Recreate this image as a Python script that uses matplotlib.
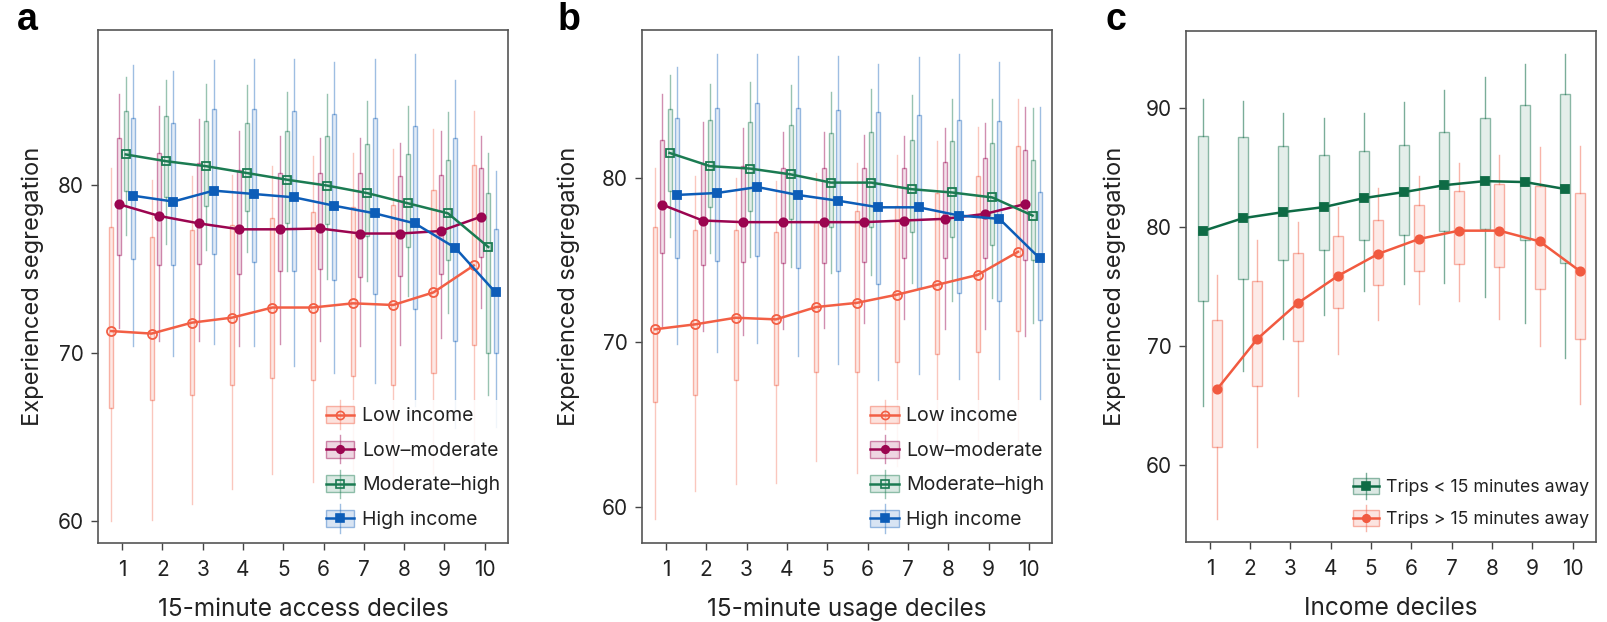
import matplotlib
matplotlib.use('Agg')
import matplotlib.pyplot as plt
from matplotlib.colors import to_rgba
from matplotlib.patches import Rectangle
from matplotlib.lines import Line2D
from matplotlib.legend_handler import HandlerBase

plt.rcParams['font.family'] = ['Inter', 'DejaVu Sans']

# ---------------- data ----------------
deciles = list(range(1, 11))
tick_labels = [str(d) for d in deciles]
group_labels = ['Low income', 'Low–moderate', 'Moderate–high', 'High income']
trip_labels = ['Trips < 15 minutes away', 'Trips > 15 minutes away']

# Panel a: 15-minute access deciles
a_low_mean = [71.3, 71.15, 71.8, 72.1, 72.7, 72.7, 72.95, 72.85, 73.6, 75.2]
a_low_q1 = [66.7, 67.2, 67.5, 68.1, 68.5, 68.4, 68.65, 68.1, 68.8, 70.5]
a_low_q3 = [77.5, 76.9, 77.3, 77.6, 78.0, 78.35, 78.7, 78.8, 79.7, 81.2]
a_low_lo = [60.0, 60.05, 61.0, 61.9, 62.8, 62.3, 63.0, 62.4, 62.8, 64.4]
a_low_hi = [81.0, 80.3, 80.5, 80.6, 81.1, 81.7, 81.9, 82.1, 83.3, 84.4]

a_lm_mean = [78.85, 78.15, 77.7, 77.35, 77.35, 77.4, 77.1, 77.1, 77.25, 78.1]
a_lm_q1 = [75.8, 75.2, 75.3, 74.7, 74.9, 75.0, 74.5, 74.6, 74.7, 75.7]
a_lm_q3 = [82.8, 81.9, 81.3, 80.9, 80.7, 80.7, 80.7, 80.5, 80.6, 81.0]
a_lm_lo = [71.5, 70.7, 70.7, 70.4, 70.55, 70.7, 70.4, 70.5, 70.9, 72.7]
a_lm_hi = [85.4, 84.7, 83.9, 83.2, 82.9, 82.8, 82.8, 82.5, 83.2, 82.9]

a_mh_mean = [81.8, 81.4, 81.1, 80.7, 80.3, 79.95, 79.5, 78.9, 78.3, 76.3]
a_mh_q1 = [79.6, 79.25, 78.75, 78.45, 77.75, 77.65, 76.95, 76.3, 75.5, 70.0]
a_mh_q3 = [84.4, 84.1, 83.8, 83.7, 83.2, 82.9, 82.4, 81.8, 81.5, 79.5]
a_mh_lo = [77.0, 76.5, 76.1, 76.0, 74.9, 74.4, 74.3, 73.4, 72.4, 67.5]
a_mh_hi = [86.4, 86.2, 86.0, 85.95, 85.5, 85.4, 85.0, 84.7, 84.3, 81.9]

a_hi_mean = [79.35, 79.0, 79.65, 79.45, 79.25, 78.75, 78.3, 77.7, 76.25, 73.6]
a_hi_q1 = [75.6, 75.2, 75.9, 75.4, 74.9, 74.35, 73.5, 72.6, 70.7, 70.0]
a_hi_q3 = [83.95, 83.7, 84.5, 84.5, 84.4, 84.2, 83.95, 83.5, 82.8, 77.35]
a_hi_lo = [70.4, 69.8, 70.55, 70.4, 69.2, 68.8, 68.2, 66.85, 65.55, 65.6]
a_hi_hi = [87.1, 86.75, 87.4, 87.5, 87.5, 87.3, 87.5, 87.8, 86.25, 80.8]

# Panel b: 15-minute usage deciles
b_low_mean = [70.8, 71.1, 71.5, 71.4, 72.15, 72.4, 72.9, 73.5, 74.1, 75.5]
b_low_q1 = [66.4, 66.8, 67.7, 67.4, 68.2, 68.2, 68.8, 69.3, 69.4, 70.7]
b_low_q3 = [77.0, 76.8, 76.8, 76.7, 77.3, 78.0, 78.3, 79.05, 80.1, 81.9]
b_low_lo = [59.3, 61.0, 61.4, 61.5, 62.8, 62.1, 62.5, 63.7, 64.1, 64.1]
b_low_hi = [80.6, 80.1, 80.0, 79.8, 80.3, 80.9, 81.4, 82.2, 83.1, 84.8]

b_lm_mean = [78.36, 77.4, 77.3, 77.3, 77.3, 77.3, 77.4, 77.5, 77.8, 78.4]
b_lm_q1 = [75.4, 74.7, 74.9, 74.8, 74.8, 74.9, 75.1, 75.1, 75.15, 75.0]
b_lm_q3 = [82.3, 80.8, 80.7, 80.6, 80.6, 80.6, 80.6, 80.97, 81.2, 81.7]
b_lm_lo = [71.0, 70.7, 70.45, 70.8, 70.9, 71.2, 71.4, 70.8, 70.8, 70.4]
b_lm_hi = [85.1, 83.4, 83.0, 82.75, 82.8, 82.6, 82.5, 83.0, 83.3, 84.3]

b_mh_mean = [81.5, 80.7, 80.55, 80.2, 79.7, 79.7, 79.3, 79.1, 78.8, 77.7]
b_mh_q1 = [79.2, 78.2, 78.0, 77.5, 77.0, 77.0, 76.7, 76.4, 75.9, 75.0]
b_mh_q3 = [84.15, 83.5, 83.4, 83.2, 82.7, 82.75, 82.3, 82.2, 82.1, 81.1]
b_mh_lo = [76.4, 75.4, 75.2, 74.6, 74.2, 74.1, 73.6, 72.5, 72.7, 71.2]
b_mh_hi = [86.2, 85.7, 85.8, 85.6, 85.2, 85.4, 85.0, 84.8, 84.8, 84.2]

b_hi_mean = [78.95, 79.07, 79.43, 78.95, 78.6, 78.2, 78.2, 77.7, 77.5, 75.1]
b_hi_q1 = [75.15, 74.96, 75.25, 74.54, 74.36, 73.55, 73.28, 72.98, 72.54, 71.36]
b_hi_q3 = [83.6, 84.2, 84.5, 84.2, 84.1, 83.96, 83.8, 83.5, 83.46, 79.15]
b_hi_lo = [69.9, 69.4, 69.95, 69.2, 68.7, 67.7, 68.1, 67.8, 67.8, 66.5]
b_hi_hi = [86.7, 87.5, 87.5, 87.4, 87.4, 86.9, 87.3, 87.5, 87.0, 84.3]

# Panel c: income deciles
c_near_mean = [79.66, 80.75, 81.26, 81.68, 82.44, 82.95, 83.53, 83.87, 83.79, 83.2]
c_near_q1 = [73.8, 75.6, 77.2, 78.1, 78.9, 79.3, 79.7, 79.8, 78.9, 77.0]
c_near_q3 = [87.7, 87.6, 86.8, 86.1, 86.4, 86.9, 88.0, 89.2, 90.3, 91.2]
c_near_lo = [64.9, 67.9, 70.6, 72.6, 74.6, 75.2, 75.3, 74.1, 71.9, 69.0]
c_near_hi = [90.8, 90.6, 89.6, 89.2, 89.6, 90.5, 91.5, 92.6, 93.7, 94.6]

c_far_mean = [66.36, 70.6, 73.6, 75.9, 77.75, 78.99, 79.7, 79.7, 78.8, 76.3]
c_far_q1 = [61.5, 66.6, 70.45, 73.15, 75.1, 76.3, 76.9, 76.6, 74.8, 70.6]
c_far_q3 = [72.2, 75.5, 77.8, 79.25, 80.6, 81.9, 83.05, 83.6, 83.5, 82.9]
c_far_lo = [55.45, 61.5, 65.8, 69.3, 72.2, 73.5, 73.8, 72.3, 69.95, 65.1]
c_far_hi = [76.0, 78.9, 80.4, 81.7, 83.3, 84.3, 85.4, 86.1, 86.7, 86.8]

# ---------------- styles ----------------
C_LOW = '#F25F45'
C_LM = '#9B0550'
C_MH = '#1B7B52'
C_HI = '#0D5DB8'
C_NEAR = '#0E6B45'
C_FAR = '#F15A40'

group_styles = [
    dict(color=C_LOW, marker='o', mfc='none', ms=6.5, fa=0.14, ea=0.45, wa=0.35),
    dict(color=C_LM, marker='o', mfc=C_LM, ms=6.0, fa=0.12, ea=0.45, wa=0.45),
    dict(color=C_MH, marker='s', mfc='none', ms=6.0, fa=0.12, ea=0.45, wa=0.45),
    dict(color=C_HI, marker='s', mfc=C_HI, ms=5.8, fa=0.12, ea=0.40, wa=0.40),
]
trip_styles = [
    dict(color=C_NEAR, marker='s', mfc=C_NEAR, ms=6.0, fa=0.11, ea=0.45, wa=0.55),
    dict(color=C_FAR, marker='o', mfc=C_FAR, ms=6.0, fa=0.12, ea=0.45, wa=0.45),
]

TXT = '#222222'


def draw_series(ax, offset, width, mean, q1, q3, lo, hi, st):
    pos = [d + offset for d in deciles]
    stats = [dict(med=m, q1=a, q3=b, whislo=l, whishi=h, fliers=[])
             for m, a, b, l, h in zip(mean, q1, q3, lo, hi)]
    ax.bxp(stats, positions=pos, widths=width, patch_artist=True,
           showcaps=False, showfliers=False, manage_ticks=False,
           boxprops=dict(facecolor=to_rgba(st['color'], st['fa']),
                         edgecolor=to_rgba(st['color'], st['ea']), linewidth=1.0),
           whiskerprops=dict(color=to_rgba(st['color'], st['wa']), linewidth=1.0),
           medianprops=dict(linewidth=0), zorder=1)
    ax.plot(pos, mean, color=st['color'], lw=1.8, marker=st['marker'],
            ms=st['ms'], mfc=st['mfc'], mec=st['color'], mew=1.3, zorder=3)


class BoxHandler(HandlerBase):
    def __init__(self, st):
        super().__init__()
        self.st = st

    def create_artists(self, legend, orig_handle, xdescent, ydescent,
                       width, height, fontsize, trans):
        st = self.st
        x0, y0 = -xdescent, -ydescent
        xc, yc = x0 + width / 2, y0 + height / 2
        vl = Line2D([xc, xc], [yc - 0.85 * height, yc + 0.85 * height],
                    color=to_rgba(st['color'], st['wa']), lw=1.0, transform=trans)
        rect = Rectangle((x0, y0), width, height,
                         facecolor=to_rgba(st['color'], st['fa'] + 0.04),
                         edgecolor=to_rgba(st['color'], st['ea']), lw=1.0,
                         transform=trans)
        hl = Line2D([x0, x0 + width], [yc, yc], color=st['color'], lw=1.8,
                    transform=trans)
        mk = Line2D([xc], [yc], marker=st['marker'], ms=st['ms'] * 0.9,
                    mfc=st['mfc'], mec=st['color'], mew=1.2, ls='none',
                    transform=trans)
        return [vl, rect, hl, mk]


def add_legend(ax, labels, styles, fs, yoff):
    proxies = [Line2D([], [], color=s['color']) for s in styles]
    hmap = {p: BoxHandler(s) for p, s in zip(proxies, styles)}
    leg = ax.legend(proxies, labels, handler_map=hmap, loc='lower right',
                    bbox_to_anchor=(1.0, yoff),
                    fontsize=fs, handlelength=1.45, handleheight=0.95,
                    labelspacing=0.8, handletextpad=0.4, borderpad=0.3,
                    borderaxespad=0.1, frameon=True, fancybox=False,
                    framealpha=0.85, edgecolor='none', facecolor='white')
    for t in leg.get_texts():
        t.set_color(TXT)
    leg.set_zorder(5)


def style_axes(ax, ylim, yticks, xlabel, ylab_x):
    ax.set_xlim(0.4, 10.58)
    ax.set_ylim(*ylim)
    ax.set_xticks(deciles)
    ax.set_xticklabels(tick_labels)
    ax.set_yticks(yticks)
    for sp in ax.spines.values():
        sp.set_color('#555555')
        sp.set_linewidth(1.2)
    ax.tick_params(direction='out', length=5, width=1.0, colors='#444444',
                   labelcolor=TXT, labelsize=15)
    ax.tick_params(axis='x', pad=7)
    ax.tick_params(axis='y', pad=5)
    ax.set_xlabel(xlabel, fontsize=17.5, color=TXT)
    ax.xaxis.set_label_coords(0.5, -0.13)
    ax.xaxis.label.set_va('center')
    ax.set_ylabel('Experienced segregation', fontsize=17, color=TXT)
    ax.yaxis.set_label_coords(ylab_x, 0.5)
    ax.yaxis.label.set_va('center')


fig = plt.figure(figsize=(16.08, 6.22), dpi=100)
W, H = 1608.0, 622.0


def make_ax(left, right, top, bottom):
    return fig.add_axes([left / W, 1 - bottom / H, (right - left) / W, (bottom - top) / H])


offsets4 = [-0.27, -0.09, 0.09, 0.27]

# Panel a
ax_a = make_ax(98, 508, 30, 543)
a_data = [
    (a_low_mean, a_low_q1, a_low_q3, a_low_lo, a_low_hi),
    (a_lm_mean, a_lm_q1, a_lm_q3, a_lm_lo, a_lm_hi),
    (a_mh_mean, a_mh_q1, a_mh_q3, a_mh_lo, a_mh_hi),
    (a_hi_mean, a_hi_q1, a_hi_q3, a_hi_lo, a_hi_hi),
]
for off, dat, st in zip(offsets4, a_data, group_styles):
    draw_series(ax_a, off, 0.1, *dat, st)
style_axes(ax_a, (58.7, 89.2), [60, 70, 80], '15-minute access deciles', -0.16)
add_legend(ax_a, group_labels, group_styles, 14, 0.012)

# Panel b
ax_b = make_ax(641.7, 1052.3, 30, 543)
b_data = [
    (b_low_mean, b_low_q1, b_low_q3, b_low_lo, b_low_hi),
    (b_lm_mean, b_lm_q1, b_lm_q3, b_lm_lo, b_lm_hi),
    (b_mh_mean, b_mh_q1, b_mh_q3, b_mh_lo, b_mh_hi),
    (b_hi_mean, b_hi_q1, b_hi_q3, b_hi_lo, b_hi_hi),
]
for off, dat, st in zip(offsets4, b_data, group_styles):
    draw_series(ax_b, off, 0.1, *dat, st)
style_axes(ax_b, (57.83, 88.96), [60, 70, 80], '15-minute usage deciles', -0.178)
add_legend(ax_b, group_labels, group_styles, 14, 0.012)

# Panel c
ax_c = make_ax(1185.7, 1596, 30.7, 542.3)
c_data = [
    (c_near_mean, c_near_q1, c_near_q3, c_near_lo, c_near_hi),
    (c_far_mean, c_far_q1, c_far_q3, c_far_lo, c_far_hi),
]
for off, dat, st in zip([-0.18, 0.18], c_data, trip_styles):
    draw_series(ax_c, off, 0.25, *dat, st)
style_axes(ax_c, (53.47, 96.53), [60, 70, 80, 90], 'Income deciles', -0.172)
add_legend(ax_c, trip_labels, trip_styles, 12.8, 0.014)

# Panel letters
for x, lab in [(17, 'a'), (558, 'b'), (1106, 'c')]:
    fig.text(x / W, 1 - 30 / H, lab, fontsize=27, fontweight='bold',
             family=['Liberation Sans', 'DejaVu Sans'], va='baseline', ha='left')

fig.savefig('out.png', dpi=100)
